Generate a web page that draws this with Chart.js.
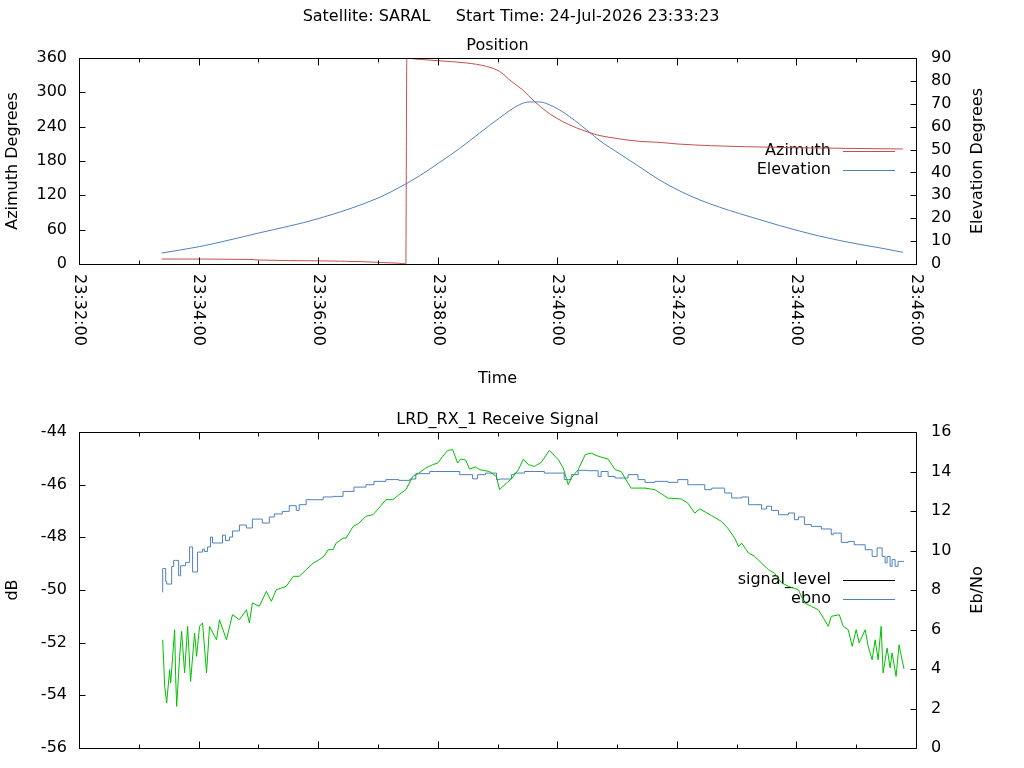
<!DOCTYPE html>
<html>
<head>
<meta charset="utf-8">
<script src="https://cdn.jsdelivr.net/npm/chart.js@4.4.1/dist/chart.umd.min.js"></script>
<style>
  html, body { margin: 0; padding: 0; background: #fff; overflow: hidden; }
  #page { position: relative; width: 1024px; height: 768px; overflow: hidden; }
  .pane { position: absolute; left: 0; width: 1024px; }
</style>
</head>
<body>
<div id="page">
  <div class="pane" style="top:0;height:384px"><canvas id="posChart" width="1024" height="384"></canvas></div>
  <div class="pane" style="top:384px;height:404px"><canvas id="sigChart" width="1024" height="404"></canvas></div>
</div>
<script>
// time window of both plots
const X_MIN = "23:32:00";
const X_MAX = "23:46:00";
const PASS_START = "23:33:23";

// position plot
const azTime = ["23:33:23", "23:34:51", "23:35:00", "23:36:00", "23:36:45", "23:37:05", "23:37:20",
  "23:37:28", "23:37:29", "23:37:37", "23:38:00", "23:38:29", "23:38:49", "23:39:02", "23:39:14",
  "23:39:25", "23:39:37", "23:39:49", "23:39:59", "23:40:12", "23:40:26", "23:40:39", "23:41:03",
  "23:41:23", "23:41:43", "23:42:01", "23:42:35", "23:43:08", "23:43:58", "23:44:49", "23:45:47"];
const azDeg = [8.7, 8.0, 7.0, 5.5, 4.0, 2.5, 1.5,
  0.3, 359.8, 358.3, 355.3, 351.3, 345.3, 336.6, 319.1,
  304.6, 284.2, 266.7, 255.2, 243.4, 233.5, 226.0, 218.5,
  214.3, 212.5, 209.7, 206.7, 205.0, 203.3, 202.1, 201.0];

const elTime = ["23:33:23", "23:34:01", "23:35:00", "23:36:00", "23:37:00", "23:37:28", "23:37:42",
  "23:38:02", "23:38:22", "23:38:42", "23:39:02", "23:39:22", "23:39:32", "23:39:42", "23:39:52",
  "23:40:02", "23:40:12", "23:40:22", "23:40:32", "23:40:42", "23:41:03", "23:41:23", "23:41:43",
  "23:42:03", "23:42:23", "23:42:43", "23:43:03", "23:43:23", "23:43:43", "23:44:03", "23:44:23",
  "23:44:43", "23:45:03", "23:45:23", "23:45:47"];
const elDeg = [4.8, 7.6, 13.5, 19.8, 28.8, 35.0, 38.6,
  44.4, 50.5, 57.2, 63.8, 69.6, 70.8, 70.8, 69.6,
  67.4, 64.5, 61.2, 57.7, 54.1, 48.0, 42.3, 36.6,
  31.9, 28.0, 24.8, 22.0, 19.4, 16.8, 14.4, 12.2,
  10.3, 8.6, 7.1, 5.1];

// receive signal plot, times in seconds after PASS_START
const lvlSec = [1, 3, 5, 8, 9, 13, 14, 15, 18, 20, 23, 26, 29, 33, 35, 38, 41, 45, 48, 55, 58, 65, 71, 78,
  85, 88, 91, 98, 105, 110, 115, 125, 132, 138, 145, 152, 158, 163, 167, 172, 175, 182, 185, 192,
  198, 205, 212, 218, 225, 232, 238, 245, 252, 258, 265, 272, 277, 282, 287, 292, 297, 300, 305,
  309, 315, 319, 329, 336, 339, 346, 351, 358, 363, 368, 374, 381, 389, 398, 403, 408, 411, 418,
  425, 431, 438, 448, 455, 461, 471, 485, 495, 508, 521, 528, 535, 540, 552, 562, 568, 575, 579,
  582, 589, 595, 602, 609, 615, 622, 629, 639, 645, 652, 659, 664, 669, 672, 680, 684, 689, 693,
  697, 700, 706, 709, 713, 716, 719, 722, 724, 728, 731, 733, 737, 740, 743, 745];
const lvlDb = [-51.89, -53.66, -54.29, -53.03, -53.53, -51.51, -53.28, -54.42, -52.52, -51.57, -53.15,
  -51.38, -53.47, -51.63, -52.52, -51.38, -51.25, -53.15, -51.38, -51.89, -51.13, -51.89, -50.94,
  -51.13, -50.75, -51.25, -50.49, -50.62, -50.05, -50.43, -49.99, -49.86, -49.48, -49.48, -49.23,
  -48.98, -48.85, -48.72, -48.47, -48.47, -48.22, -48.03, -48.03, -47.59, -47.46, -47.2, -47.14,
  -46.89, -46.57, -46.57, -46.38, -46.19, -45.69, -45.56, -45.37, -45.24, -45.18, -44.93, -44.7,
  -44.67, -45.18, -45.03, -45.06, -45.41, -45.33, -45.43, -45.5, -45.69, -46.19, -45.94, -45.78,
  -45.43, -45.03, -45.24, -45.31, -45.15, -44.7, -45.05, -45.37, -46.0, -45.75, -45.43, -44.86,
  -44.8, -44.92, -45.03, -45.43, -45.5, -46.13, -46.13, -46.19, -46.51, -46.54, -46.7, -47.08,
  -46.92, -47.18, -47.4, -47.65, -48.03, -48.35, -48.22, -48.6, -48.72, -48.98, -49.23, -49.36,
  -49.73, -49.86, -49.99, -50.49, -50.62, -50.75, -51.06, -51.38, -51.0, -50.94, -51.38, -51.51,
  -52.14, -51.51, -52.01, -51.51, -52.14, -52.65, -51.89, -52.65, -51.38, -53.15, -52.2, -52.96,
  -52.39, -53.28, -52.08, -52.65, -53.0];

const ebSec = [1, 2, 4, 5, 10, 12, 14, 17, 18, 19, 20, 24, 25, 28, 29, 31, 32, 36, 37, 41, 43, 46, 49,
  51, 55, 61, 64, 68, 71, 78, 85, 91, 101, 108, 113, 121, 128, 135, 138, 145, 162, 172, 182, 193,
  205, 213, 225, 238, 249, 255, 269, 275, 299, 312, 317, 325, 336, 339, 351, 354, 364, 374, 384,
  404, 408, 411, 418, 428, 438, 441, 448, 455, 468, 478, 485, 495, 508, 518, 528, 533, 545, 552,
  565, 572, 582, 589, 594, 602, 607, 612, 619, 629, 635, 639, 645, 652, 662, 672, 674, 682, 689,
  695, 697, 706, 713, 718, 723, 726, 728, 731, 733, 736, 739, 743, 745];
const ebVal = [7.88, 9.09, 9.09, 8.44, 8.3, 9.19, 9.5, 9.5, 8.72, 8.72, 9.23, 9.23, 9.4, 9.4, 10.18,
  10.18, 8.91, 8.91, 9.92, 9.92, 10.07, 9.95, 10.18, 10.68, 10.38, 10.38, 10.78, 10.51, 10.68,
  10.99, 11.29, 11.14, 11.59, 11.39, 11.7, 11.85, 11.98, 12.27, 12.03, 12.32, 12.57, 12.71, 12.74,
  12.99, 13.21, 13.33, 13.5, 13.59, 13.55, 13.62, 13.89, 14.0, 14.0, 13.84, 13.63, 13.84, 13.92,
  13.59, 13.62, 13.84, 13.92, 14.0, 14.0, 13.92, 13.59, 13.59, 13.84, 14.06, 14.04, 13.75, 14.0,
  13.75, 13.67, 13.84, 13.59, 13.45, 13.5, 13.45, 13.59, 13.33, 13.33, 13.08, 13.16, 12.91, 12.66,
  12.71, 12.32, 12.32, 12.1, 12.24, 12.03, 11.81, 11.9, 11.56, 11.7, 11.31, 11.22, 11.09, 10.8,
  10.88, 10.41, 10.46, 10.29, 10.29, 10.04, 9.7, 10.13, 9.7, 9.37, 9.7, 9.2, 9.54, 9.2, 9.45, 9.45];

const RED = "#c0504d";
const BLUE = "#4f81bd";
const GREEN = "#00c000";
const FONT_FAMILY = "'DejaVu Sans', sans-serif";
const FONT_SIZE = 16;

function toSec(hms) {
  const [h, m, s] = hms.split(":").map(Number);
  return h * 3600 + m * 60 + s;
}
function fmtTime(sec) {
  const p = (n) => String(n).padStart(2, "0");
  return p(Math.floor(sec / 3600)) + ":" + p(Math.floor(sec / 60) % 60) + ":" + p(sec % 60);
}

const xMin = toSec(X_MIN);
const xMax = toSec(X_MAX);
const t0 = toSec(PASS_START);

Chart.defaults.font.family = FONT_FAMILY;
Chart.defaults.font.size = FONT_SIZE;
Chart.defaults.color = "#000";

// gnuplot look: boxed frame, inward ticks, titles and key drawn by hand
const gnuFrame = {
  id: "gnuFrame",
  beforeDatasetsDraw(chart, args, o) {
    const ctx = chart.ctx;
    ctx.save();
    ctx.font = FONT_SIZE + "px " + FONT_FAMILY;
    ctx.fillStyle = "#000";
    ctx.textAlign = "right";
    ctx.textBaseline = "middle";
    chart.data.datasets.forEach((ds, i) => {
      const y = o.keyY + i * o.keyGap;
      ctx.fillText(ds.label, o.keyTextX, y);
      ctx.strokeStyle = ds.keyColor || ds.borderColor;
      ctx.lineWidth = 1;
      ctx.beginPath();
      ctx.moveTo(o.keyLine[0], Math.round(y) + 0.5);
      ctx.lineTo(o.keyLine[1], Math.round(y) + 0.5);
      ctx.stroke();
    });
    ctx.restore();
  },
  afterDatasetsDraw(chart, args, o) {
    const { ctx, chartArea: a, scales } = chart;
    const L = a.left + 0.5, R = a.right + 0.5, T = a.top + 0.5, B = a.bottom + 0.5;
    ctx.save();
    ctx.strokeStyle = "#000";
    ctx.lineWidth = 1;
    ctx.beginPath();
    ctx.rect(L, T, R - L, B - T);
    // x ticks, major every 2 min, minor every minute, on bottom and top
    const xs = scales.x;
    for (let v = xs.min; v <= xs.max; v += 60) {
      const px = Math.round(xs.getPixelForValue(v)) + 0.5;
      const len = (v - xs.min) % 120 === 0 ? 7 : 4;
      ctx.moveTo(px, B); ctx.lineTo(px, B - len);
      ctx.moveTo(px, T); ctx.lineTo(px, T + len);
    }
    scales.y.ticks.forEach((t) => {
      const py = Math.round(scales.y.getPixelForValue(t.value)) + 0.5;
      ctx.moveTo(L, py); ctx.lineTo(L + 6, py);
    });
    scales.y2.ticks.forEach((t) => {
      const py = Math.round(scales.y2.getPixelForValue(t.value)) + 0.5;
      ctx.moveTo(R, py); ctx.lineTo(R - 6, py);
    });
    ctx.stroke();

    ctx.font = FONT_SIZE + "px " + FONT_FAMILY;
    ctx.fillStyle = "#000";
    ctx.textBaseline = "middle";
    if (o.xLabels) {
      ctx.textAlign = "left";
      for (let v = xs.min; v <= xs.max; v += 120) {
        ctx.save();
        ctx.translate(xs.getPixelForValue(v), o.xLabelTop);
        ctx.rotate(Math.PI / 2);
        ctx.fillText(fmtTime(v), 0, 0);
        ctx.restore();
      }
    }
    ctx.textAlign = "center";
    const cx = (a.left + a.right) / 2;
    const cy = (a.top + a.bottom) / 2;
    if (o.title) ctx.fillText(o.title, 511, o.titleY);
    ctx.fillText(o.subtitle, cx, o.subtitleY);
    if (o.xTitle) ctx.fillText(o.xTitle, cx, o.xTitleY);
    ctx.save();
    ctx.translate(13, cy);
    ctx.rotate(-Math.PI / 2);
    ctx.fillText(o.yTitle, 0, 0);
    ctx.restore();
    ctx.save();
    ctx.translate(978, cy);
    ctx.rotate(-Math.PI / 2);
    ctx.fillText(o.y2Title, 0, 0);
    ctx.restore();
    ctx.restore();
  }
};

function baseOptions(y, y2, xHeight, padTop, frame) {
  const axisGrid = { display: false, drawTicks: false };
  return {
    responsive: false,
    animation: false,
    devicePixelRatio: 1,
    layout: { padding: { top: padTop, left: 0, right: 0, bottom: 0 } },
    elements: { point: { radius: 0 }, line: { borderWidth: 1, tension: 0 } },
    scales: {
      x: {
        type: "linear", min: xMin, max: xMax,
        ticks: { display: false, stepSize: 120 },
        grid: axisGrid, border: { display: false },
        afterFit: (s) => { s.height = xHeight; }
      },
      y: {
        position: "left", min: y[0], max: y[1],
        ticks: { stepSize: y[2], padding: 12 },
        grid: axisGrid, border: { display: false },
        afterFit: (s) => { s.width = 79; }
      },
      y2: {
        position: "right", min: y2[0], max: y2[1],
        ticks: { stepSize: y2[2], padding: 15 },
        grid: axisGrid, border: { display: false },
        afterFit: (s) => { s.width = 108; }
      }
    },
    plugins: { legend: { display: false }, tooltip: { enabled: false }, gnuFrame: frame }
  };
}

new Chart(document.getElementById("posChart"), {
  type: "line",
  data: {
    datasets: [
      {
        label: "Azimuth", yAxisID: "y", borderColor: RED, cubicInterpolationMode: "monotone",
        data: azTime.map((t, i) => ({ x: toSec(t), y: azDeg[i] }))
      },
      {
        label: "Elevation", yAxisID: "y2", borderColor: BLUE, cubicInterpolationMode: "monotone",
        data: elTime.map((t, i) => ({ x: toSec(t), y: elDeg[i] }))
      }
    ]
  },
  options: baseOptions([0, 360, 60], [0, 90, 10], 120, 58, {
    title: "Satellite: SARAL     Start Time: 24-Jul-2026 " + PASS_START,
    titleY: 17,
    subtitle: "Position", subtitleY: 46,
    xTitle: "Time", xTitleY: 379,
    yTitle: "Azimuth Degrees", y2Title: "Elevation Degrees",
    xLabels: true, xLabelTop: 274,
    keyY: 151, keyGap: 19.3, keyTextX: 831, keyLine: [843, 895]
  }),
  plugins: [gnuFrame]
});

// bottom canvas runs 20px past the window so the x axis box keeps the chart area at 748
new Chart(document.getElementById("sigChart"), {
  type: "line",
  data: {
    datasets: [
      {
        label: "signal_level", yAxisID: "y", borderColor: GREEN, keyColor: "#000",
        data: lvlSec.map((s, i) => ({ x: t0 + s, y: lvlDb[i] }))
      },
      {
        label: "ebno", yAxisID: "y2", borderColor: BLUE, stepped: "after",
        data: ebSec.map((s, i) => ({ x: t0 + s, y: ebVal[i] }))
      }
    ]
  },
  options: baseOptions([-56, -44, 2], [0, 16, 2], 40, 48, {
    subtitle: "LRD_RX_1 Receive Signal", subtitleY: 36,
    yTitle: "dB", y2Title: "Eb/No",
    xLabels: false,
    keyY: 196, keyGap: 18.7, keyTextX: 831, keyLine: [843, 895]
  }),
  plugins: [gnuFrame]
});
</script>
</body>
</html>
